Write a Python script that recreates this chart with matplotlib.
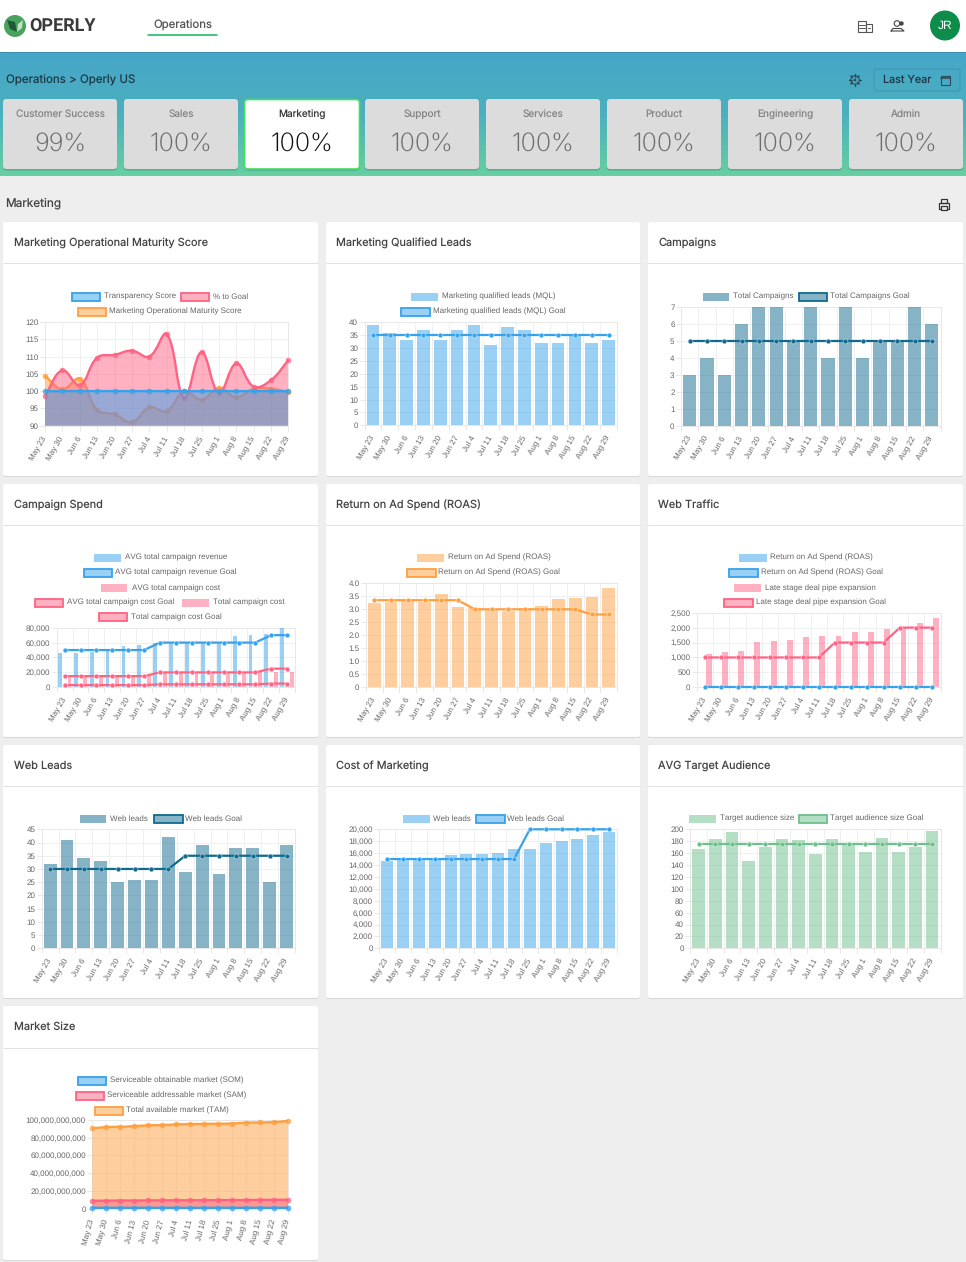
import numpy as np
import matplotlib
matplotlib.use('Agg')
import matplotlib.pyplot as plt
from matplotlib.colors import LinearSegmentedColormap
from matplotlib.patches import Rectangle, FancyBboxPatch, Circle, PathPatch, Polygon
from matplotlib.path import Path
from matplotlib.ticker import FuncFormatter

W, H = 966, 1262
UI_FONT = ['Inter', 'DejaVu Sans']
CHART_FONT = ['Liberation Sans', 'DejaVu Sans']

BLUE = '#36A2EB'
RED = '#FF6384'
ORANGE = '#FF9F40'
TEAL = '#0F6A8E'
GREEN = '#6CC08B'

weeks = ['May 23', 'May 30', 'Jun 6', 'Jun 13', 'Jun 20', 'Jun 27', 'Jul 4', 'Jul 11',
         'Jul 18', 'Jul 25', 'Aug 1', 'Aug 8', 'Aug 15', 'Aug 22', 'Aug 29']

tab_names = ['Customer Success', 'Sales', 'Marketing', 'Support', 'Services', 'Product', 'Engineering', 'Admin']
tab_values = ['99%', '100%', '100%', '100%', '100%', '100%', '100%', '100%']

# Marketing Operational Maturity Score
transparency_score = [100] * 15
pct_to_goal = [98.7, 106, 101.7, 109.7, 110.5, 111.7, 110, 116.5, 98, 111.3, 99.5, 108, 101.3, 103.2, 109]
maturity_score = [104.4, 100.5, 103.6, 94.5, 93.3, 91, 95.3, 94.2, 100, 97.5, 101, 98.2, 100.7, 100.7, 99.7]

# Marketing Qualified Leads
mql = [39, 36, 33, 37, 33, 37, 39, 31, 38, 37, 32, 32, 35, 32, 33]
mql_goal = [35] * 15

# Campaigns
campaigns = [3, 4, 3, 6, 7, 7, 5, 7, 4, 7, 4, 5, 5, 7, 6]
campaigns_goal = [5] * 15

# Campaign Spend
avg_revenue = [46000, 46000, 48000, 49000, 56000, 57000, 59000, 60000, 60000, 60000, 61000, 69000, 70000, 72000, 80000]
avg_revenue_goal = [50000] * 6 + [60000] * 7 + [70000] * 2
avg_cost = [2700, 2800, 2900, 3000, 3000, 3000, 3300, 3600, 3700, 3600, 3800, 3700, 3800, 4500, 5000]
avg_cost_goal = [3000] * 6 + [4000] * 7 + [5000] * 2
total_cost = [14000, 15000, 15000, 15500, 16000, 16000, 19500, 19000, 19000, 19500, 19500, 19500, 21000, 21000, 20500]
total_cost_goal = [15000] * 6 + [20000] * 7 + [25000] * 2

# Return on Ad Spend
roas = [3.25, 3.3, 3.35, 3.3, 3.6, 3.07, 3.05, 3.0, 2.95, 3.05, 3.12, 3.4, 3.43, 3.47, 3.82]
roas_goal = [3.35] * 6 + [3.0] * 7 + [2.8] * 2

# Web Traffic
traffic_roas_goal = [3] * 15
pipe_expansion = [1120, 1190, 1230, 1510, 1560, 1590, 1700, 1710, 1730, 1840, 1860, 1940, 2000, 2170, 2310]
pipe_goal = [1000] * 8 + [1500] * 4 + [2000] * 3

# Web Leads
web_leads = [32, 41, 34, 33, 25, 26, 26, 42, 29, 39, 28, 38, 38, 25, 39]
web_leads_goal = [30] * 8 + [35] * 7

# Cost of Marketing
cost_leads = [14600, 15000, 15000, 15100, 15700, 15900, 15900, 16100, 16700, 16700, 17700, 18100, 18400, 19000, 19500]
cost_leads_goal = [15000] * 9 + [20000] * 6

# AVG Target Audience
audience = [167, 184, 196, 146, 170, 184, 182, 159, 184, 175, 162, 186, 162, 170, 197]
audience_goal = [175] * 15

# Market Size
som = [1.0e9] * 15
sam = [9.0e9, 9.0e9, 9.2e9, 9.2e9, 9.3e9, 9.4e9, 9.5e9, 9.5e9, 9.6e9, 9.6e9, 9.7e9, 9.7e9, 9.9e9, 10e9, 10e9]
tam = [90.5e9, 92e9, 92.3e9, 93e9, 94e9, 94.2e9, 95e9, 95.3e9, 95.6e9, 95.8e9, 96e9, 97e9, 97.2e9, 97.6e9, 99e9]

plt.rcParams['font.family'] = CHART_FONT
plt.rcParams['text.hinting'] = 'no_hinting'
plt.rcParams['text.hinting_factor'] = 1
fig = plt.figure(figsize=(W / 100, H / 100), dpi=100, facecolor='#EEEEEE')

page = fig.add_axes([0, 0, 1, 1])
page.set_axis_off()


def box(x0, y0, x1, y1, fc, ec='none', lw=0, r=3, z=2, alpha=None):
    page.add_patch(FancyBboxPatch((x0, y0), x1 - x0, y1 - y0, boxstyle='round,pad=0,rounding_size=%g' % r,
                                  fc=fc, ec=ec, lw=lw, zorder=z, alpha=alpha))


def ui_text(x, y, s, size, color='#333333', ha='left', weight='normal', z=5, family=None):
    page.text(x, y + 0.8, s, fontsize=size, color=color, ha=ha, va='center', fontweight=weight,
              family=family or UI_FONT, zorder=z)


def stroke(xs, ys, color='#444444', lw=0.8, z=5):
    page.plot(xs, ys, color=color, lw=lw, zorder=z, solid_capstyle='round')


# ---- page chrome ----
grad = LinearSegmentedColormap.from_list('band', ['#46A6C9', '#4BB0BE', '#67CFA1'])
page.imshow(np.linspace(0, 1, 124).reshape(-1, 1), cmap=grad, aspect='auto', extent=(0, W, 176, 52), zorder=1)
page.add_patch(Rectangle((0, 0), W, 52, fc='white', ec='none', zorder=1))
stroke([0, W], [52, 52], '#3F8FAA', 0.7, 2)

# logo
page.add_patch(Circle((15, 26), 11, fc='#4AA35C', ec='none', zorder=3))
page.add_patch(Polygon([[7, 20], [15, 22], [17, 32], [10, 29]], fc='#1F5A38', ec='none', zorder=4))
page.add_patch(Polygon([[17, 32], [18, 24], [23, 20], [22, 28]], fc='#BFE3C4', ec='none', zorder=4))
ui_text(29.5, 26, 'OPERLY', 13.2, '#3A3A3A', weight='bold', family=['Roboto'])

ui_text(182.5, 24.5, 'Operations', 8.2, '#555555', ha='center')
stroke([148, 217], [34.5, 34.5], '#14B45C', 1.1)

# header icons
page.add_patch(Rectangle((858, 21), 8, 11, fc='none', ec='#555555', lw=0.8, zorder=5))
page.add_patch(Rectangle((866, 23.5), 5.5, 8.5, fc='none', ec='#555555', lw=0.8, zorder=5))
for yy in (24.5, 27.5):
    stroke([859, 865], [yy, yy], '#555555', 0.7)
stroke([868, 870], [27.5, 27.5], '#555555', 0.7)
page.add_patch(Circle((897, 23.5), 2.8, fc='none', ec='#444444', lw=0.8, zorder=5))
page.add_patch(Circle((901.5, 23.5), 2.2, fc='#444444', ec='none', zorder=5))
stroke([891, 893, 901, 904, 904, 891], [31, 28.5, 28.5, 31, 31, 31], '#444444', 0.8)
page.add_patch(Circle((945, 25.5), 15, fc='#0E8C4A', ec='none', zorder=5))
ui_text(945, 24.5, 'JR', 8.5, 'white', ha='center', z=6, family=['Liberation Sans'])

# toolbar row
ui_text(6, 79.5, 'Operations > Operly US', 8.3, '#1D3A46')
for a in np.deg2rad(np.arange(0, 360, 45)):
    stroke([855 + 3.5 * np.cos(a), 855 + 6 * np.cos(a)], [80 + 3.5 * np.sin(a), 80 + 6 * np.sin(a)], '#2D4D59', 1.0)
page.add_patch(Circle((855, 80), 4.3, fc='none', ec='#2D4D59', lw=0.8, zorder=5))
page.add_patch(Circle((855, 80), 1.4, fc='#2D4D59', ec='none', zorder=5))
box(874, 69, 960, 91, 'none', '#3E97A8', 0.7, r=2, z=3)
ui_text(907.5, 79.5, 'Last Year', 7.8, '#1D3A46', ha='center')
page.add_patch(Rectangle((940.5, 75.5), 9, 9, fc='none', ec='#2D4D59', lw=0.8, zorder=5))
stroke([940.5, 949.5], [78, 78], '#2D4D59', 1.2)

# tabs
tab_lefts = [3, 124, 245, 365, 486, 607, 728, 849]
for name, val, x0 in zip(tab_names, tab_values, tab_lefts):
    on = name == 'Marketing'
    x1 = x0 + 114
    box(x0, 100, x1, 170.5, '#3A6F78', r=3, z=2, alpha=0.55 if on else 0.35)
    if on:
        box(x0 - 0.5, 99.5, x1 + 0.5, 169, 'white', '#47DE5E', 1.2, r=3, z=3)
    else:
        box(x0, 99, x1, 169, '#DCDCDC', r=3, z=3)
    xc = (x0 + x1) / 2
    ui_text(xc, 113.5, name, 7.2, '#3A3A3A' if on else '#858585', ha='center')
    ui_text(xc, 143.5, val, 18.2, '#111111' if on else '#6E6E6E', ha='center', weight='light')

ui_text(5.5, 202.5, 'Marketing', 8.5, '#444444')
page.add_patch(Rectangle((939, 203), 10, 5.5, fc='none', ec='#333333', lw=0.9, zorder=5))
page.add_patch(Rectangle((941, 199), 6, 4, fc='none', ec='#333333', lw=0.9, zorder=5))
page.add_patch(Rectangle((941, 206), 6, 4, fc='#EEEEEE', ec='#333333', lw=0.9, zorder=6))

# cards
card_x = [(3, 318), (326, 640), (648, 963)]
card_y = [(222, 476, 263), (484, 737, 525), (745, 998, 786), (1006, 1260, 1048)]
card_titles = [['Marketing Operational Maturity Score', 'Marketing Qualified Leads', 'Campaigns'],
               ['Campaign Spend', 'Return on Ad Spend (ROAS)', 'Web Traffic'],
               ['Web Leads', 'Cost of Marketing', 'AVG Target Audience'],
               ['Market Size']]
for (y0, y1, yd), titles in zip(card_y, card_titles):
    for (x0, x1), title in zip(card_x, titles):
        box(x0, y0 + 0.5, x1, y1 + 1, '#D8D8D8', r=2, z=2)
        box(x0, y0, x1, y1, 'white', r=2, z=2)
        stroke([x0, x1], [yd, yd], '#E2E2E2', 0.7, 3)
        ui_text(x0 + 10.5, (y0 + yd) / 2 - 0.5, title, 7.9, '#444444')

page.set_xlim(0, W)
page.set_ylim(H, 0)


def chart_axes(left, top, right, bottom):
    return fig.add_axes([left / W, 1 - bottom / H, (right - left) / W, (bottom - top) / H], facecolor='none')


def style_axes(ax, yticks, is_bar=True, rotation=60, fmt=None):
    ax.set_axisbelow(True)
    n = len(weeks)
    ax.set_ylim(yticks[0], yticks[-1])
    ax.set_yticks(yticks)
    if fmt:
        ax.yaxis.set_major_formatter(FuncFormatter(fmt))
    ax.set_xticks(range(n))
    ax.set_xticklabels(weeks, rotation=rotation, ha='right', va='center', rotation_mode='anchor')
    if is_bar:
        ax.set_xlim(-0.5, n - 0.5)
        ax.set_xticks(np.arange(n + 1) - 0.5, minor=True)
        ax.tick_params(axis='x', which='major', length=0, pad=8)
        ax.tick_params(axis='x', which='minor', length=3.6, width=0.7, color='#E8E8E8')
        ax.grid(True, which='minor', axis='x', color='#F0F0F0', lw=0.7)
    else:
        ax.set_xlim(0, n - 1)
        ax.tick_params(axis='x', which='major', length=3.6, width=0.7, color='#E8E8E8', pad=4.5)
        ax.grid(True, which='major', axis='x', color='#F0F0F0', lw=0.7)
    ax.grid(True, which='major', axis='y', color='#F0F0F0', lw=0.7)
    ax.tick_params(axis='y', length=3.6, width=0.7, color='#E8E8E8', pad=1)
    ax.tick_params(axis='both', labelsize=6.1, labelcolor='#666666')
    for sp in ax.spines.values():
        sp.set_color('#E8E8E8')
        sp.set_linewidth(0.7)


def goal_line(ax, x, y, color, z=5, lw=1.6, ms=3.4):
    ax.plot(x, y, color=color, lw=lw, marker='o', ms=ms, mfc=color, mec=(1, 1, 1, 0.45), mew=0.7,
            clip_on=False, zorder=z)


def bars(ax, x, y, color, width=0.76, alpha=0.5):
    ax.bar(x, y, width=width, color=color, alpha=alpha, lw=0, zorder=3)


def bezier_path(ax, rect, ylim, xs, ys, base, tension=0.4):
    # same control points as a chart.js line with lineTension
    sx = (rect[2] - rect[0]) / (xs[-1] - xs[0])
    sy = (rect[3] - rect[1]) / (ylim[1] - ylim[0])
    px = np.array(xs, float) * sx
    py = np.array(ys, float) * sy
    n = len(px)
    prev_c = np.zeros((n, 2))
    next_c = np.zeros((n, 2))
    for i in range(n):
        a = max(i - 1, 0)
        b = min(i + 1, n - 1)
        d01 = np.hypot(px[i] - px[a], py[i] - py[a])
        d12 = np.hypot(px[b] - px[i], py[b] - py[i])
        tot = d01 + d12
        dx, dy = px[b] - px[a], py[b] - py[a]
        prev_c[i] = px[i] - tension * d01 / tot * dx, py[i] - tension * d01 / tot * dy
        next_c[i] = px[i] + tension * d12 / tot * dx, py[i] + tension * d12 / tot * dy
    verts = [(xs[0], ys[0])]
    codes = [Path.MOVETO]
    for i in range(n - 1):
        verts += [(next_c[i][0] / sx, next_c[i][1] / sy), (prev_c[i + 1][0] / sx, prev_c[i + 1][1] / sy),
                  (xs[i + 1], ys[i + 1])]
        codes += [Path.CURVE4] * 3
    line = Path(verts, codes)
    fill = Path(verts + [(xs[-1], base), (xs[0], base), (xs[0], ys[0])],
                codes + [Path.LINETO, Path.LINETO, Path.CLOSEPOLY])
    return line, fill


def smooth_area(ax, rect, xs, ys, color, z, lw=1.7, ms=3.6):
    ylim = ax.get_ylim()
    line, fill = bezier_path(ax, rect, ylim, xs, ys, ylim[0])
    ax.add_patch(PathPatch(fill, fc=color, ec='none', alpha=0.5, zorder=z))
    ax.add_patch(PathPatch(line, fc='none', ec=color, lw=lw, zorder=z + 0.1, clip_on=False))
    ax.plot(xs, ys, ls='none', marker='o', ms=ms, mfc=color, mec=color, mew=0.4, alpha=0.75, clip_on=False, zorder=z + 0.2)


def legend_item(y, x0, x1, tx, label, color, edge=False, alpha=0.5):
    y = y + 0.5
    page.add_patch(Rectangle((x0, y - 4), x1 - x0, 8, fc=color, ec='none', alpha=alpha, zorder=4))
    if edge:
        page.add_patch(Rectangle((x0, y - 4), x1 - x0, 8, fc='none', ec=color, lw=1.3, zorder=4))
    page.text(tx, y, label, fontsize=6.1, color='#666666', va='center', ha='left', zorder=5)


comma = lambda v, pos: '{:,.0f}'.format(v)
one_dec = lambda v, pos: '0' if v == 0 else '%.1f' % v
x = np.arange(len(weeks))

# ---- row 1 ----
legend_item(296, 72, 100, 103.5, 'Transparency Score', BLUE, True)
legend_item(296, 181, 209, 213, '% to Goal', RED, True)
legend_item(311, 78, 105.5, 109, 'Marketing Operational Maturity Score', ORANGE, True)
rect = (45, 322, 288.5, 425.7)
ax = chart_axes(*rect)
style_axes(ax, list(range(90, 121, 5)), is_bar=False)
smooth_area(ax, rect, x, maturity_score, ORANGE, 3)
smooth_area(ax, rect, x, pct_to_goal, RED, 4)
smooth_area(ax, rect, x, transparency_score, BLUE, 5)

legend_item(296, 411, 438, 442, 'Marketing qualified leads (MQL)', BLUE)
legend_item(311, 401, 429.5, 433, 'Marketing qualified leads (MQL) Goal', BLUE, True)
ax = chart_axes(364.5, 322.3, 617, 425.3)
style_axes(ax, list(range(0, 41, 5)))
bars(ax, x, mql, BLUE)
goal_line(ax, x, mql_goal, BLUE)

legend_item(296, 702.5, 729, 733, 'Total Campaigns', TEAL)
legend_item(296, 799, 827, 830, 'Total Campaigns Goal', TEAL, True)
ax = chart_axes(681, 306.7, 940.5, 425.7)
style_axes(ax, list(range(0, 8)))
bars(ax, x, campaigns, TEAL)
goal_line(ax, x, campaigns_goal, TEAL)

# ---- row 2 ----
legend_item(557, 94, 121, 125, 'AVG total campaign revenue', BLUE)
legend_item(572, 84, 112, 115, 'AVG total campaign revenue Goal', BLUE, True)
legend_item(587.5, 101, 127, 132, 'AVG total campaign cost', RED)
legend_item(602, 35, 63, 67, 'AVG total campaign cost Goal', RED, True)
legend_item(602, 182, 209, 213, 'Total campaign cost', RED)
legend_item(616.5, 99, 127, 131, 'Total campaign cost Goal', RED, True)
ax = chart_axes(56.7, 627.7, 295, 687.3)
style_axes(ax, list(range(0, 80001, 20000)), fmt=comma)
bars(ax, x - 0.3, avg_revenue, BLUE, width=0.24)
bars(ax, x, avg_cost, RED, width=0.24)
bars(ax, x + 0.3, total_cost, RED, width=0.24)
goal_line(ax, x, avg_revenue_goal, BLUE)
goal_line(ax, x, avg_cost_goal, RED)
goal_line(ax, x, total_cost_goal, RED)

legend_item(557, 417, 444, 448, 'Return on Ad Spend (ROAS)', ORANGE)
legend_item(572, 407, 436, 438.5, 'Return on Ad Spend (ROAS) Goal', ORANGE, True)
ax = chart_axes(366, 583.3, 617, 687.3)
style_axes(ax, list(np.arange(0, 4.01, 0.5)), fmt=one_dec)
bars(ax, x, roas, ORANGE)
goal_line(ax, x, roas_goal, ORANGE)

legend_item(557, 739, 767, 770, 'Return on Ad Spend (ROAS)', BLUE)
legend_item(572, 729, 758, 761, 'Return on Ad Spend (ROAS) Goal', BLUE, True)
legend_item(587.5, 734, 761, 765, 'Late stage deal pipe expansion', RED)
legend_item(602, 724, 753, 755.6, 'Late stage deal pipe expansion Goal', RED, True)
ax = chart_axes(697, 612.7, 940.5, 687.3)
style_axes(ax, list(range(0, 2501, 500)), fmt=comma)
bars(ax, x + 0.22, pipe_expansion, RED, width=0.36)
goal_line(ax, x, pipe_goal, RED)
goal_line(ax, x, traffic_roas_goal, BLUE)

# ---- row 3 ----
legend_item(818, 80, 106, 110, 'Web leads', TEAL)
legend_item(818, 154, 183, 185, 'Web leads Goal', TEAL, True)
ax = chart_axes(41.7, 829.3, 295, 948.3)
style_axes(ax, list(range(0, 46, 5)))
bars(ax, x, web_leads, TEAL)
goal_line(ax, x, web_leads_goal, TEAL)

legend_item(818, 402.5, 429.5, 433, 'Web leads', BLUE)
legend_item(818, 476.4, 504.6, 507.4, 'Web leads Goal', BLUE, True)
ax = chart_axes(379.3, 829.3, 617, 948.3)
style_axes(ax, list(range(0, 20001, 2000)), fmt=comma)
bars(ax, x, cost_leads, BLUE)
goal_line(ax, x, cost_leads_goal, BLUE)

legend_item(818, 689, 716, 719.7, 'Target audience size', GREEN)
legend_item(818, 799, 827, 830, 'Target audience size Goal', GREEN, True)
ax = chart_axes(690.3, 829.3, 940.5, 948.3)
style_axes(ax, list(range(0, 201, 20)))
bars(ax, x, audience, GREEN)
goal_line(ax, x, audience_goal, GREEN)

# ---- row 4 ----
legend_item(1080, 78, 106, 110, 'Serviceable obtainable market (SOM)', BLUE, True)
legend_item(1095, 76, 104, 107, 'Serviceable addressable market (SAM)', RED, True)
legend_item(1110, 95, 123, 126, 'Total available market (TAM)', ORANGE, True)
rect = (92.3, 1120, 288, 1208.7)
ax = chart_axes(*rect)
style_axes(ax, [int(v) for v in np.arange(0, 100e9 + 1, 20e9)], is_bar=False, rotation=75, fmt=comma)
smooth_area(ax, rect, x, tam, ORANGE, 3)
smooth_area(ax, rect, x, sam, RED, 4)
smooth_area(ax, rect, x, som, BLUE, 5)

fig.savefig('out.png', dpi=100, facecolor=fig.get_facecolor())
